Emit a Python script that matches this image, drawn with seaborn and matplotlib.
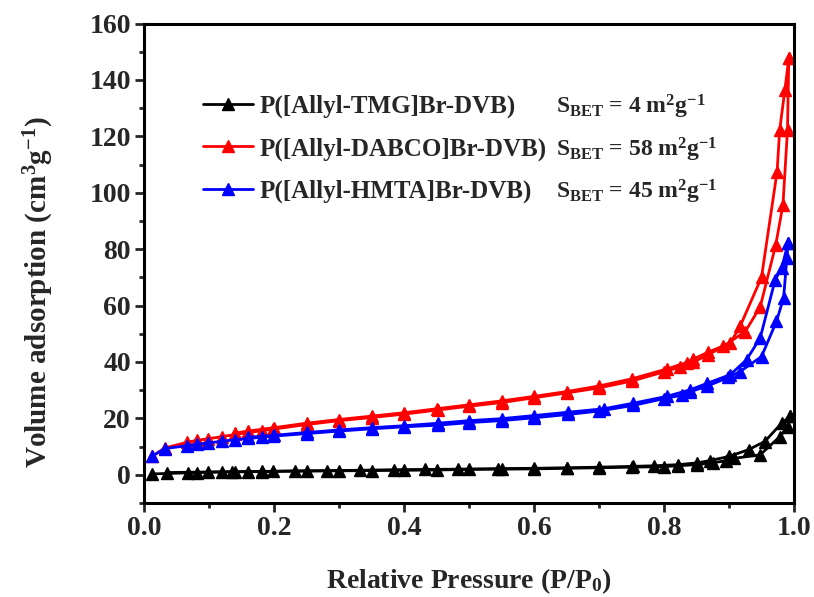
import numpy as np
import pandas as pd
import matplotlib
matplotlib.use("Agg")
import matplotlib.pyplot as plt
from matplotlib.lines import Line2D
import seaborn as sns

# ---------------- data ----------------
names = ["P([Allyl-TMG]Br-DVB)", "P([Allyl-DABCO]Br-DVB)", "P([Allyl-HMTA]Br-DVB)"]
sbet = ["4", "58", "45"]
colors = ["black", "red", "blue"]

tmg_ads_x = [0.012, 0.068, 0.081, 0.099, 0.12, 0.14, 0.16, 0.181, 0.199, 0.25, 0.30, 0.35, 0.40, 0.45,
             0.50, 0.55, 0.60, 0.65, 0.70, 0.75, 0.80, 0.822, 0.85, 0.876, 0.896, 0.907, 0.948, 0.978, 0.99, 0.994]
tmg_ads_y = [0.3, 0.7, 0.8, 0.9, 1.0, 1.0, 1.1, 1.1, 1.2, 1.3, 1.4, 1.5, 1.6, 1.7,
             1.9, 2.0, 2.1, 2.3, 2.5, 2.7, 2.9, 3.2, 3.6, 4.3, 5.0, 5.8, 7.1, 13.5, 17.0, 20.7]
tmg_des_x = [0.994, 0.981, 0.955, 0.930, 0.90, 0.87, 0.85, 0.822, 0.785, 0.753, 0.70, 0.65, 0.60, 0.545,
             0.483, 0.432, 0.384, 0.332, 0.281, 0.232, 0.181, 0.135, 0.035]
tmg_des_y = [20.7, 18.3, 11.8, 8.9, 6.5, 5.0, 4.2, 3.6, 3.2, 3.0, 2.7, 2.5, 2.3, 2.2,
             2.0, 1.9, 1.8, 1.6, 1.5, 1.4, 1.2, 1.1, 0.8]

dabco_ads_x = [0.012, 0.032, 0.066, 0.081, 0.099, 0.12, 0.14, 0.16, 0.181, 0.199, 0.25, 0.30, 0.35, 0.40,
               0.453, 0.50, 0.55, 0.60, 0.65, 0.70, 0.75, 0.80, 0.825, 0.845, 0.868, 0.891, 0.925, 0.948,
               0.972, 0.983, 0.990, 0.992]
dabco_ads_y = [6.5, 9.5, 11.5, 12.2, 12.8, 13.5, 14.3, 15.0, 15.6, 16.2, 17.8, 19.2, 20.3, 21.5,
               23.0, 24.3, 25.6, 27.3, 29.0, 30.8, 33.2, 36.5, 38.2, 40.0, 42.5, 45.5, 50.8, 59.5,
               81.6, 95.7, 122.3, 147.8]
dabco_des_x = [0.992, 0.986, 0.978, 0.974, 0.950, 0.917, 0.902, 0.868, 0.845, 0.835, 0.804, 0.75, 0.70,
               0.65, 0.60, 0.55, 0.50, 0.45, 0.40, 0.35, 0.30, 0.25, 0.20, 0.16, 0.14]
dabco_des_y = [147.8, 136.5, 122.3, 107.5, 70.0, 52.6, 46.7, 43.5, 41.0, 39.8, 37.5, 34.0, 31.5,
               29.5, 27.8, 26.2, 24.8, 23.4, 22.0, 20.8, 19.6, 18.3, 16.7, 15.5, 14.8]

hmta_ads_x = [0.012, 0.032, 0.066, 0.081, 0.099, 0.12, 0.14, 0.16, 0.181, 0.199, 0.25, 0.30, 0.35, 0.40,
              0.453, 0.50, 0.55, 0.60, 0.653, 0.70, 0.753, 0.80, 0.827, 0.84, 0.866, 0.899, 0.917, 0.95,
              0.973, 0.984, 0.989, 0.991]
hmta_ads_y = [6.5, 9.3, 10.3, 10.8, 11.3, 11.9, 12.4, 12.9, 13.3, 13.7, 14.6, 15.5, 16.3, 17.0,
              17.6, 18.5, 19.2, 20.2, 21.4, 22.6, 24.6, 27.0, 28.2, 29.4, 31.4, 34.5, 36.6, 41.9,
              54.4, 62.7, 76.8, 82.2]
hmta_des_x = [0.991, 0.981, 0.971, 0.948, 0.927, 0.902, 0.866, 0.84, 0.804, 0.753, 0.707, 0.653,
              0.60, 0.55, 0.50, 0.453, 0.40, 0.35, 0.30, 0.25, 0.20, 0.16]
hmta_des_y = [82.2, 73.3, 69.1, 48.5, 40.8, 35.5, 32.4, 30.1, 27.8, 25.4, 23.4, 22.2,
              21.0, 19.9, 19.2, 18.3, 17.4, 16.7, 15.9, 15.0, 14.0, 13.3]

branches = [
    (tmg_ads_x, tmg_ads_y, tmg_des_x, tmg_des_y),
    (dabco_ads_x, dabco_ads_y, dabco_des_x, dabco_des_y),
    (hmta_ads_x, hmta_ads_y, hmta_des_x, hmta_des_y),
]

xticks = [0.0, 0.2, 0.4, 0.6, 0.8, 1.0]
yticks = [0, 20, 40, 60, 80, 100, 120, 140, 160]

# ---------------- style ----------------
sns.set_theme(style="ticks")
plt.rcParams["font.family"] = ["Liberation Serif", "DejaVu Serif"]
plt.rcParams["font.weight"] = "bold"
plt.rcParams["mathtext.fontset"] = "custom"
plt.rcParams["mathtext.rm"] = "Liberation Serif:bold"
plt.rcParams["mathtext.it"] = "Liberation Serif:bold"
plt.rcParams["mathtext.bf"] = "Liberation Serif:bold"

fig = plt.figure(figsize=(8.14, 5.97), dpi=100)
ax = fig.add_axes([144 / 814, 1 - 503 / 597, 650 / 814, (503 - 23.5) / 597])

for (ax_x, ax_y, ds_x, ds_y), col in zip(branches, colors):
    df_a = pd.DataFrame({"x": ax_x, "y": ax_y})
    df_d = pd.DataFrame({"x": ds_x, "y": ds_y})
    for df in (df_a, df_d):
        sns.lineplot(data=df, x="x", y="y", sort=False, color=col, linewidth=2.0,
                     marker="^", markersize=9, markeredgecolor=col, markeredgewidth=1.0,
                     ax=ax, legend=False, errorbar=None)

ax.set_xlim(0, 1.0)
ax.set_ylim(-10, 160)
ax.set_xticks(xticks)
ax.set_yticks(yticks)
ax.set_xticklabels([f"{v:.1f}" for v in xticks], fontsize=20, fontweight="bold")
ax.set_yticklabels([str(v) for v in yticks], fontsize=20, fontweight="bold")
ax.set_xticks([0.1, 0.3, 0.5, 0.7, 0.9], minor=True)
ax.set_yticks([-10, 10, 30, 50, 70, 90, 110, 130, 150], minor=True)
ax.tick_params(which="major", direction="out", length=6.5, width=2, top=False, right=False, pad=3)
ax.tick_params(which="minor", direction="out", length=3.5, width=2, top=False, right=False)
for sp in ax.spines.values():
    sp.set_linewidth(2.2)
    sp.set_color("black")
    sp.set_visible(True)

ax.set_xlabel(r"Relative Pressure (P/P$_{\mathregular{0}}$)", fontsize=20, fontweight="bold", labelpad=18)
ax.set_ylabel(r"Volume adsorption (cm$^{\mathregular{3}}$g$^{\mathregular{-1}}$)", fontsize=21,
              fontweight="bold")
ax.yaxis.set_label_coords(-0.135, 0.44)

handles = [Line2D([0], [0], color=c, linewidth=2.0, marker="^", markersize=9, markeredgecolor=c)
           for c in colors]
leg = fig.legend(handles, names, loc="upper left", bbox_to_anchor=(203 / 814, 1 - 95 / 597), frameon=False,
                 prop={"family": "Liberation Serif", "weight": "bold", "size": 18},
                 handlelength=2.0, handletextpad=0.25, labelspacing=0.75, borderaxespad=0, borderpad=0)

ys = [107, 150, 192]
for s, yp in zip(sbet, ys):
    fig.text(556 / 814, 1 - yp / 597,
             r"S$_{\mathregular{BET}}$ = " + s + r" m$^{\mathregular{2}}$g$^{\mathregular{-1}}$",
             fontsize=17, fontweight="bold", va="center", ha="left")

fig.savefig("out.png", dpi=100)
